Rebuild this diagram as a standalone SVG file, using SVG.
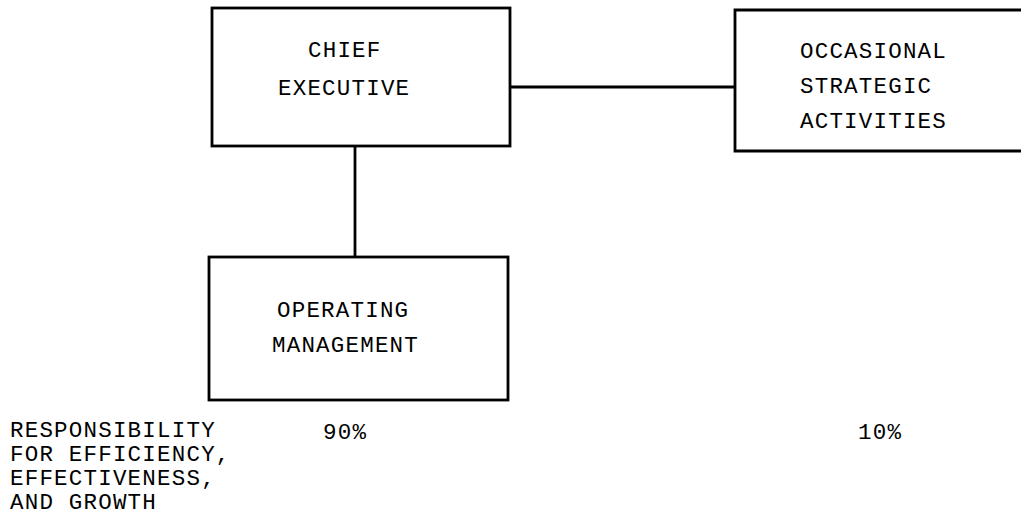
<svg xmlns="http://www.w3.org/2000/svg" width="1021" height="515" viewBox="0 0 1021 515">
<style>
.box{fill:none;stroke:#000;stroke-width:2.8}
.ln{fill:none;stroke:#000;stroke-width:2.8}
text{font-family:"Liberation Mono","DejaVu Sans Mono",monospace;font-size:22.5px;letter-spacing:1.2px;fill:#000}
</style>
<rect width="1021" height="515" fill="#fff"/>
<g id="connectors">
<line class="ln" x1="510" y1="87" x2="735" y2="87"/>
<line class="ln" x1="355" y1="146" x2="355" y2="257"/>
</g>
<g id="chief-executive">
<rect class="box" x="212" y="8" width="298" height="138"/>
<text x="308" y="57">CHIEF</text>
<text x="278" y="95">EXECUTIVE</text>
</g>
<g id="occasional-strategic-activities">
<path class="box" d="M1025 10 H735 V151 H1025"/>
<text x="800" y="58">OCCASIONAL</text>
<text x="800" y="93">STRATEGIC</text>
<text x="800" y="128">ACTIVITIES</text>
</g>
<g id="operating-management">
<rect class="box" x="209" y="257" width="299" height="143"/>
<text x="277" y="317">OPERATING</text>
<text x="272" y="352">MANAGEMENT</text>
</g>
<g id="labels">
<text x="10" y="437">RESPONSIBILITY</text>
<text x="10" y="461">FOR EFFICIENCY,</text>
<text x="10" y="485">EFFECTIVENESS,</text>
<text x="10" y="509">AND GROWTH</text>
<text x="323" y="439">90%</text>
<text x="858" y="439">10%</text>
</g>
</svg>
